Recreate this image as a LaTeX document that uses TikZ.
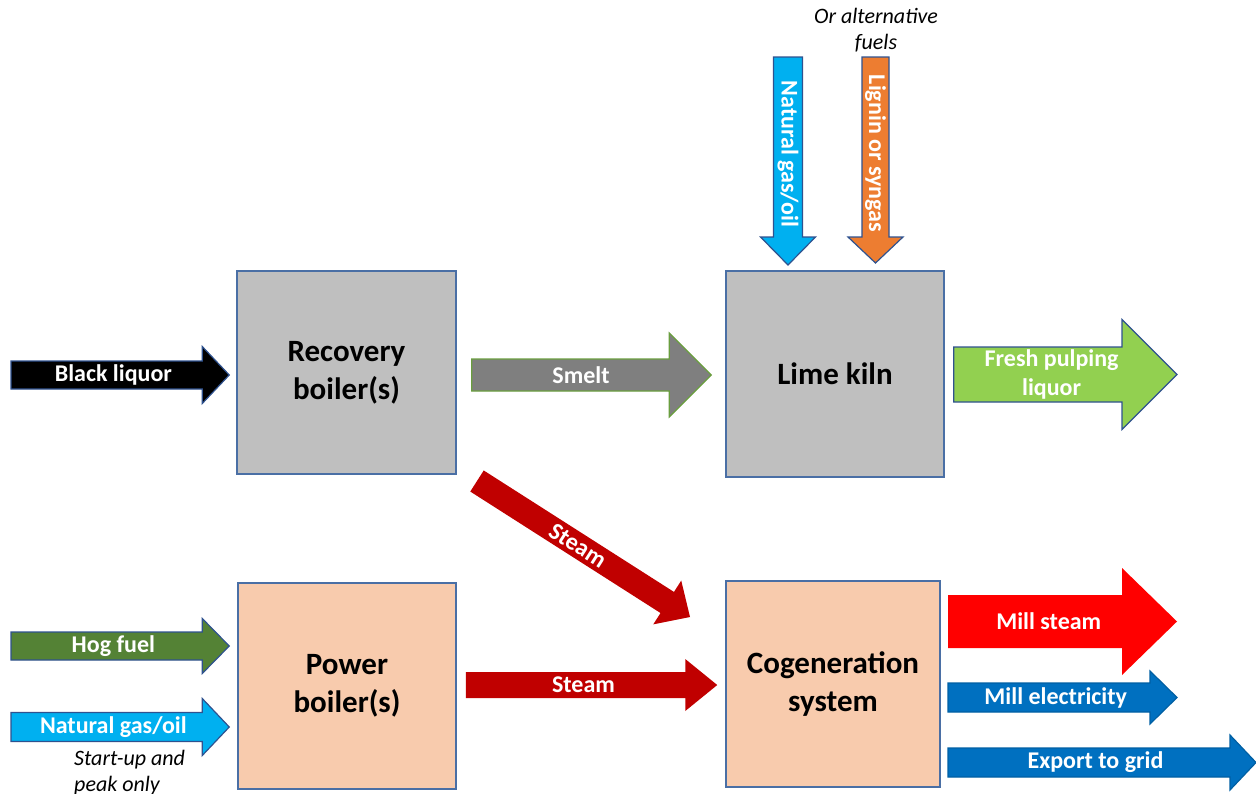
\documentclass[tikz,border=0pt]{standalone}
\usepackage{fontspec}
\setmainfont{Carlito}
\usepackage{xcolor}
\usepackage{tikz}
\usetikzlibrary{calc,positioning}
\definecolor{PMEdge}{HTML}{4A6FA5}
\definecolor{PMArrowEdge}{HTML}{2F528F}
\definecolor{PMGray}{HTML}{BFBFBF}
\definecolor{PMPeach}{HTML}{F8CBAD}
\definecolor{PMSmelt}{HTML}{7F7F7F}
\definecolor{PMSmeltEdge}{HTML}{6A9E3F}
\definecolor{PMLiquor}{HTML}{92D050}
\definecolor{PMCyan}{HTML}{00B0F0}
\definecolor{PMOrange}{HTML}{ED7D31}
\definecolor{PMHog}{HTML}{548235}
\definecolor{PMSteam}{HTML}{C00000}
\definecolor{PMRed}{HTML}{FF0000}
\definecolor{PMPower}{HTML}{0070C0}
\tikzset{
  unit/.style={draw=PMEdge, line width=1.5pt, minimum width=#1, minimum height=206pt,
    align=center, font=\bfseries\fontsize{31}{38}\selectfont},
  lbl/.style={text=white, align=center, inner sep=0pt, font=\bfseries\fontsize{24}{29}\selectfont},
  note/.style={inner sep=0pt, font=\itshape\fontsize{22}{26}\selectfont},
  flow/.style={line width=1.2pt, draw=PMArrowEdge, fill=#1},
}
% block arrow: label name, tail, tip, head length, shaft half, head half, style, text
\newcommand{\flowarrow}[8]{%
  \pgfmathsetmacro{\headmid}{#4/2}
  \coordinate (#1-hb) at ($(#3)!#4pt!(#2)$);
  \path[#7] ($(#2)!#5pt!90:(#3)$) -- ($(#1-hb)!#5pt!-90:(#2)$)
    -- ($(#1-hb)!#6pt!-90:(#2)$) -- (#3)
    -- ($(#1-hb)!#6pt!90:(#2)$) -- ($(#1-hb)!#5pt!90:(#2)$)
    -- ($(#2)!#5pt!-90:(#3)$) -- cycle;
  \path (#2) -- ($(#3)!\headmid pt!(#2)$)
    node[lbl, midway, sloped, allow upside down] (#1) {#8};
}

\begin{document}
\begin{tikzpicture}[x=1pt, y=-1pt]
\useasboundingbox (0,0) rectangle (1256,793);

\node[unit=219pt, fill=PMGray, minimum height=203pt] (recovery) at (346.5,372.5) {Recovery\\boiler(s)};
\node[unit=218pt, fill=PMGray] (kiln) at (835,374) {Lime kiln};
\node[unit=218pt, fill=PMPeach] (power) at (347,686) {Power\\boiler(s)};
\node[unit=214pt, fill=PMPeach] (cogen) at (833,684) {Cogeneration\\system};

% inputs on the left
\coordinate (blackIn) at (11,375);
\coordinate (hogIn) at (11,646);
\coordinate (gasIn) at (11,727);
\flowarrow{black}{blackIn}{$(recovery.west)+(-7,2.5)$}{27}{14}{28.5}{flow=black}{Black liquor}
\flowarrow{hog}{hogIn}{$(power.west)+(-8,-40)$}{27}{14}{27.5}{flow=PMHog}{Hog fuel}
\flowarrow{gas}{gasIn}{$(power.west)+(-8,41)$}{27}{14.5}{28.5}{flow=PMCyan}{Natural gas/oil}
\node[note, align=left, anchor=west] (startup) at (74,772.5) {Start-up and\\peak only};

% fuels into the kiln
\coordinate (kilnGas) at (788,57);
\coordinate (kilnLignin) at (875.5,57);
\flowarrow{kgas}{kilnGas}{788,265}{28}{14.5}{27.5}{flow=PMCyan}{Natural gas/oil}
\flowarrow{lignin}{kilnLignin}{875.5,263}{26}{13.5}{27.5}{flow=PMOrange}{Lignin or syngas}
\node[note, align=center] (altfuels) at (876,30) {Or alternative\\fuels};

% between the units
\flowarrow{smelt}{$(recovery.east)+(15,2.5)$}{$(kiln.west)+(-14,1)$}{42}{16}{42}{flow=PMSmelt, draw=PMSmeltEdge}{Smelt}
\flowarrow{steamA}{477,481}{690,617}{27}{12.5}{26}{fill=PMSteam}{Steam}
\flowarrow{steamB}{$(power.east)+(9,-1)$}{$(cogen.west)+(-8,1)$}{32}{13}{26}{fill=PMSteam}{Steam}

% outputs on the right
\coordinate (liquorOut) at (1177,374.5);
\coordinate (steamOut) at (1177,621.5);
\coordinate (elecOut) at (1177,697.5);
\coordinate (gridOut) at (1256,762.5);
\flowarrow{liquor}{$(kiln.east)+(9,0.5)$}{liquorOut}{55}{27.5}{55}{flow=PMLiquor}{Fresh pulping\\liquor}
\flowarrow{millsteam}{948,621.5}{steamOut}{55}{26.5}{53.5}{fill=PMRed}{Mill steam}
\flowarrow{millelec}{948,697.5}{elecOut}{27}{14.5}{26.5}{flow=PMPower, draw=PMPower!85!black}{Mill electricity}
\flowarrow{grid}{948,762.5}{gridOut}{26}{14.5}{27.5}{flow=PMPower, draw=PMPower!85!black}{Export to grid}
\end{tikzpicture}
\end{document}
